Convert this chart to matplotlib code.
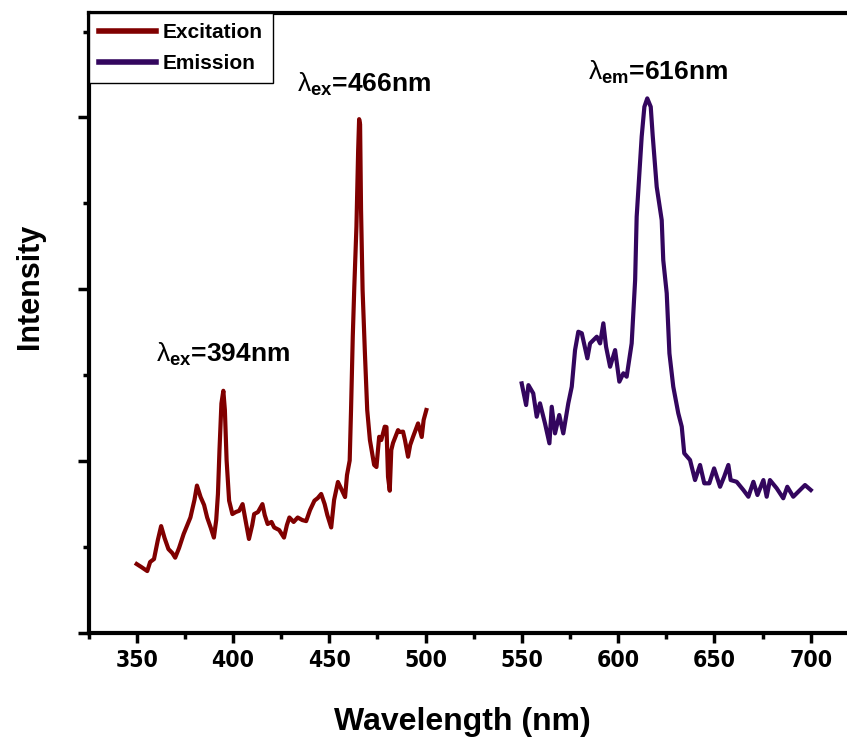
import matplotlib
matplotlib.use("Agg")
import matplotlib.pyplot as plt
from matplotlib.ticker import MultipleLocator, NullFormatter

# ---------------- data ----------------
ex_wl = [350, 352.5, 355.5, 357, 359, 361, 362.7, 364.5, 366.5, 368.5, 370, 372, 374.4,
         377.9, 380, 381.3, 383.2, 385, 386.6, 388.5, 390.1, 391.3, 392.2, 393, 394, 395,
         395.8, 396.7, 398, 399.7, 401.5, 403.2, 405, 406.5, 408.3, 410, 411, 413, 415.3,
         416.5, 418, 420, 421.4, 424, 426.5, 428, 429.3, 431.5, 433.6, 436, 438, 440,
         442.3, 444, 445.8, 447.6, 449, 451, 452.5, 454.5, 456.5, 458.2, 459.2, 460.6,
         461.3, 462.2, 463, 464.1, 465.0, 465.5, 466.0, 466.5, 467.3, 468.5, 469.7, 471.1,
         473.3, 474.5, 475.9, 477, 478.8, 479.7, 480.5, 481.4, 482.2, 483.1, 485.7, 486.6,
         488.3, 489.3, 490.9, 492, 493.5, 496.1, 498, 499, 500.4]
ex_int = [0.399, 0.381, 0.358, 0.411, 0.428, 0.539, 0.620, 0.550, 0.486, 0.463, 0.436, 0.492,
          0.574, 0.670, 0.772, 0.856, 0.789, 0.743, 0.670, 0.609, 0.553, 0.655, 0.807, 1.063,
          1.334, 1.408, 1.296, 1.002, 0.768, 0.690, 0.702, 0.709, 0.748, 0.655, 0.545, 0.626,
          0.690, 0.702, 0.748, 0.684, 0.632, 0.644, 0.612, 0.597, 0.553, 0.626, 0.670, 0.644,
          0.670, 0.655, 0.649, 0.713, 0.768, 0.783, 0.807, 0.748, 0.684, 0.612, 0.772, 0.877,
          0.830, 0.789, 0.917, 1.002, 1.296, 1.723, 2.014, 2.363, 2.81, 2.99, 2.96, 2.46,
          1.995, 1.628, 1.296, 1.121, 0.976, 0.964, 1.140, 1.121, 1.199, 1.197, 0.907, 0.826,
          1.063, 1.104, 1.179, 1.168, 1.170, 1.121, 1.024, 1.092, 1.140, 1.218, 1.139, 1.238,
          1.296]

em_wl = [549.9, 552.2, 553.4, 555.9, 557.7, 559.4, 562, 564.3, 565.5, 567.2, 569.4, 571.5,
         574.1, 575.9, 577.6, 579.3, 581.1, 584, 585.4, 588.9, 590.6, 592.3, 593.7, 595.8,
         598.4, 600.6, 602.7, 604.4, 607, 608.8, 609.6, 611, 612.2, 613.6, 615.1, 616.9,
         617.9, 620, 622.6, 623.4, 625.2, 626.6, 628.6, 631.2, 633, 634.3, 637.3, 639.9,
         642.5, 644.7, 647.3, 649.8, 652.9, 655, 657.2, 658.4, 661.5, 665, 667.6, 670.2,
         672.3, 675.4, 677.1, 678.8, 682.3, 685.7, 687.8, 690.9, 693.5, 697, 700]
em_int = [1.451, 1.325, 1.441, 1.393, 1.257, 1.335, 1.218, 1.102, 1.315, 1.160, 1.267, 1.160,
          1.335, 1.432, 1.645, 1.752, 1.743, 1.597, 1.684, 1.723, 1.684, 1.801, 1.665, 1.548,
          1.645, 1.461, 1.510, 1.490, 1.684, 2.053, 2.422, 2.674, 2.888, 3.062, 3.111, 3.062,
          2.897, 2.596, 2.402, 2.169, 1.976, 1.626, 1.432, 1.277, 1.199, 1.044, 1.005, 0.888,
          0.976, 0.869, 0.869, 0.956, 0.849, 0.907, 0.976, 0.888, 0.878, 0.830, 0.791, 0.878,
          0.801, 0.888, 0.791, 0.888, 0.840, 0.782, 0.849, 0.791, 0.820, 0.859, 0.830]

series_labels = ["Excitation", "Emission"]
xtick_values = [350, 400, 450, 500, 550, 600, 650, 700]
annotations = [(394.6, 1.62, "ex", "394"), (467.8, 3.19, "ex", "466"), (620.7, 3.265, "em", "616")]

# ---------------- style ----------------
plt.rcParams['mathtext.fontset'] = 'custom'
plt.rcParams['mathtext.rm'] = 'Liberation Sans'
plt.rcParams['mathtext.bf'] = 'Liberation Sans:bold'
plt.rcParams['mathtext.it'] = 'Liberation Sans:italic'

ex_color = '#800000'
em_color = '#33065e'

fig = plt.figure(figsize=(8.47, 7.46), dpi=100)
ax = fig.add_axes([0.1045, 0.1521, 0.9096, 0.8304])

l1, = ax.plot(ex_wl, ex_int, color=ex_color, lw=3.0, label=series_labels[0])
l2, = ax.plot(em_wl, em_int, color=em_color, lw=3.0, label=series_labels[1])

ax.set_xlim(325, 725)
ax.set_ylim(0, 3.608)

ax.set_xticks(xtick_values)
ax.xaxis.set_minor_locator(MultipleLocator(25))
ax.yaxis.set_major_locator(MultipleLocator(1))
ax.yaxis.set_minor_locator(MultipleLocator(0.5))
ax.yaxis.set_major_formatter(NullFormatter())

for s in ['left', 'bottom', 'top']:
    ax.spines[s].set_linewidth(3.0)
ax.spines['right'].set_visible(False)

ax.tick_params(axis='x', which='major', direction='out', length=7, width=2.5, pad=5)
ax.tick_params(axis='x', which='minor', direction='out', length=4, width=2.5)
ax.tick_params(axis='y', which='major', direction='out', length=8, width=2.5)
ax.tick_params(axis='y', which='minor', direction='out', length=4, width=2.5)

for lab in ax.get_xticklabels():
    lab.set_fontfamily('DejaVu Sans')
    lab.set_fontstretch('condensed')
    lab.set_fontweight('bold')
    lab.set_fontsize(16.5)

ax.set_xlabel("Wavelength (nm)", fontsize=23, fontweight='bold', family='Liberation Sans')
ax.xaxis.set_label_coords(0.485, -0.12)
ax.set_ylabel("Intensity", fontsize=22, fontweight='bold', family='Liberation Sans')
ax.yaxis.set_label_coords(-0.076, 0.558)
ax.yaxis.label.set_va('center')

for x, y, sub, val in annotations:
    ax.text(x, y, r"$\mathrm{\lambda}_{\mathbf{" + sub + r"}}$" + "=" + val + "nm",
            ha='center', va='center', fontsize=19, fontweight='bold', family='Liberation Sans')

leg = ax.legend(handles=[l1, l2], loc='upper left', bbox_to_anchor=(0.0, 1.0),
                borderaxespad=0.0, fancybox=False, edgecolor='black', framealpha=1,
                prop={'family': 'Liberation Sans', 'weight': 'bold', 'size': 15},
                handlelength=2.75, handletextpad=0.3, borderpad=0.5, labelspacing=0.55)
leg.get_frame().set_linewidth(1.0)
for h in leg.get_lines():
    h.set_linewidth(4)

fig.savefig("out.png", dpi=100)
